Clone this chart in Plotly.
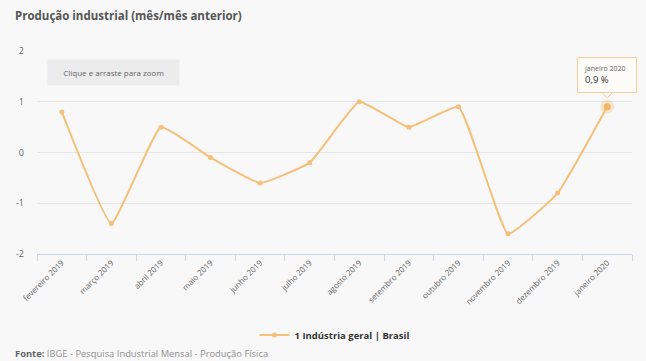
import plotly.graph_objects as go

categories = ["fevereiro 2019", "março 2019", "abril 2019", "maio 2019", "junho 2019",
              "julho 2019", "agosto 2019", "setembro 2019", "outubro 2019",
              "novembro 2019", "dezembro 2019", "janeiro 2020"]
values = [0.8, -1.4, 0.5, -0.1, -0.6, -0.2, 1.0, 0.5, 0.9, -1.6, -0.8, 0.9]
y_ticks = [-2, -1, 0, 1, 2]
series_name = "1 Indústria geral | Brasil"

LINE = "#f4c07a"
FONT = "Open Sans"
BG = "#f8f8f8"

PW, PH = 595, 203  # plot area size in px
L, T = 37, 51

fig = go.Figure()
fig.add_trace(go.Scatter(
    x=categories, y=values, mode="lines+markers", name="<b>" + series_name + "</b>",
    line=dict(color=LINE, width=2, shape="spline", smoothing=0.35),
    marker=dict(color=LINE, size=5),
    hoverinfo="skip",
))
# hover halo on last point
fig.add_trace(go.Scatter(
    x=[categories[-1]], y=[values[-1]], mode="markers", showlegend=False,
    marker=dict(color="rgba(244,192,122,0.35)", size=14, line=dict(width=0)),
    hoverinfo="skip",
))
fig.add_trace(go.Scatter(
    x=[categories[-1]], y=[values[-1]], mode="markers", showlegend=False,
    marker=dict(color="#f0b865", size=7, line=dict(width=0)),
    hoverinfo="skip",
))

fig.update_layout(
    width=646, height=361,
    margin=dict(l=L, r=14, t=T, b=107),
    paper_bgcolor=BG, plot_bgcolor=BG,
    font=dict(family=FONT, color="#666666", size=9),
    showlegend=True,
    legend=dict(orientation="h", x=0.5, xanchor="center", y=-(335 - 254) / PH, yanchor="middle",
                font=dict(family=FONT, size=9.5, color="#333333"),
                bgcolor="rgba(0,0,0,0)", itemwidth=30),
    xaxis=dict(
        type="category", range=[-0.5, len(categories) - 0.5],
        tickson="boundaries", ticks="outside", ticklen=6, tickcolor="#ccd6eb",
        showline=True, linecolor="#ccd6eb", linewidth=1,
        showgrid=False, tickangle=-45,
        tickfont=dict(family=FONT, size=8, color="#666666"),
    ),
    yaxis=dict(
        range=[-2, 2], tickvals=y_ticks, ticktext=[str(v) for v in y_ticks],
        showgrid=True, gridcolor="#e6e6e6", gridwidth=1, zeroline=False,
        showline=False, ticks="", ticklabelstandoff=12,
        tickfont=dict(family=FONT, size=9, color="#666666"),
    ),
    hovermode=False,
)

# Title
fig.add_annotation(
    xref="paper", yref="paper", x=(13 - L) / PW, y=1 + (T - 15) / PH, xanchor="left", yanchor="middle",
    text="<b>Produção industrial (mês/mês anterior)</b>", showarrow=False,
    font=dict(family=FONT, size=11.5, color="#555555"),
)
# Source
fig.add_annotation(
    xref="paper", yref="paper", x=(13 - L) / PW, y=-(353 - 254) / PH, xanchor="left", yanchor="middle",
    text="<b style='color:#666666'>Fonte:</b> IBGE - Pesquisa Industrial Mensal - Produção Física",
    showarrow=False,
    font=dict(family=FONT, size=9.4, color="#909090"),
)
# Zoom hint box
fig.add_annotation(
    xref="paper", yref="paper", x=(47 - L) / PW, y=1 - (72 - T) / PH, xanchor="left", yanchor="middle",
    text="Clique e arraste para zoom", showarrow=False,
    font=dict(family=FONT, size=8, color="#666666"),
    bgcolor="#ececec", borderpad=7, width=117, height=11, align="center",
)
# Tooltip pointer
fig.add_shape(
    type="path", xref="x", yref="y", xsizemode="pixel", ysizemode="pixel",
    xanchor=len(categories) - 1, yanchor=values[-1],
    path="M -6,15 L 6,15 L 0,9 Z",
    fillcolor="rgba(253,251,247,1)", line=dict(color="#f2cf9d", width=1), layer="above",
)
# Tooltip
fig.add_annotation(
    x=categories[-1], y=values[-1], xref="x", yref="y",
    text="<span style='font-size:7px;color:#666666'>janeiro 2020</span><br>0,9 %",
    showarrow=True, arrowhead=0, arrowwidth=1, arrowcolor="rgba(0,0,0,0)",
    ax=0, ay=-14, yanchor="bottom",
    align="left", bgcolor="rgba(253,251,247,1)", bordercolor="#f2cf9d", borderwidth=1,
    borderpad=6, width=46,
    font=dict(family=FONT, size=9.5, color="#333333"),
)

fig.write_html("out.html", config={"displayModeBar": False},
               post_script="document.body.style.margin='0';document.body.style.background='%s';" % BG)
